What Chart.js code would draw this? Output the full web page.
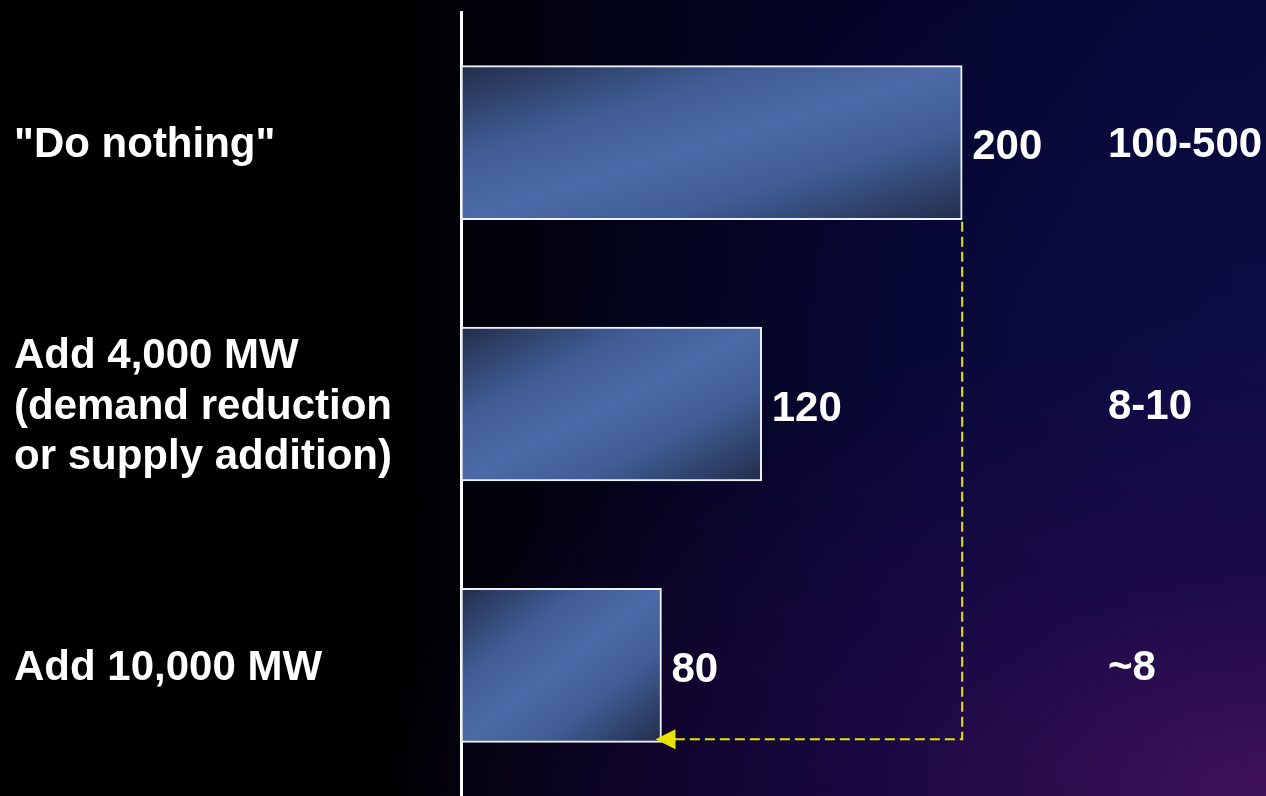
<!DOCTYPE html>
<html>
<head>
<meta charset="utf-8">
<script src="https://cdn.jsdelivr.net/npm/chart.js@4/dist/chart.umd.min.js"></script>
<style>
html, body { margin: 0; padding: 0; }
body {
  width: 1266px; height: 796px; overflow: hidden;
  background:
    radial-gradient(ellipse 70% 60% at 100% 100%, rgba(68,18,90,0.95) 0%, rgba(40,10,82,0.6) 45%, rgba(20,5,60,0) 100%),
    radial-gradient(ellipse 55% 70% at 100% 45%, rgba(14,14,72,0.85) 0%, rgba(0,0,40,0) 100%),
    linear-gradient(90deg, #000 0%, #000 30%, #020218 50%, #03032a 75%, #060638 100%);
}
#wrap { position: relative; width: 1266px; height: 796px; }
</style>
</head>
<body>
<div id="wrap"><canvas id="chart"></canvas></div>
<script>
var categories = [
  '"Do nothing"',
  ['Add 4,000 MW', '(demand reduction', 'or supply addition)'],
  'Add 10,000 MW'
];
var values = [200, 120, 80];
var rightLabels = ['100-500', '8-10', '~8'];

var FONT = { family: '"Liberation Sans", Arial, sans-serif', size: 42, weight: 'bold', lineHeight: 1.21 };

function barFill(c) {
  var ch = c.chart;
  if (!ch.chartArea || !ch.scales.x) return '#4a68a4';
  var xs = ch.scales.x, ys = ch.scales.y;
  var x0 = xs.getPixelForValue(0), x1 = xs.getPixelForValue(c.raw);
  var yc = ys.getPixelForValue(c.dataIndex);
  var w = x1 - x0, h = 154;
  var cx = (x0 + x1) / 2;
  // dark top-left and bottom-right corners, light band along the other diagonal
  var s = (w * h) / (h * h + w * w);
  var g = ch.ctx.createLinearGradient(cx - h * s, yc - w * s, cx + h * s, yc + w * s);
  g.addColorStop(0, '#222d4a');
  g.addColorStop(0.3, '#405d96');
  g.addColorStop(0.5, '#4b6aa7');
  g.addColorStop(0.7, '#405d96');
  g.addColorStop(1, '#222d4a');
  return g;
}

function noPad(s) { s.paddingTop = 0; s.paddingBottom = 0; }

var extras = {
  id: 'extras',
  afterDatasetsDraw: function(chart) {
    var ctx = chart.ctx;
    var xs = chart.scales.x;
    var bars = chart.getDatasetMeta(0).data;

    // value labels
    ctx.save();
    ctx.fillStyle = '#ffffff';
    ctx.font = 'bold 42px "Liberation Sans", Arial, sans-serif';
    ctx.textAlign = 'left';
    ctx.textBaseline = 'middle';
    bars.forEach(function(b, i) {
      ctx.fillText(String(values[i]), b.x + 10, b.y + 5);
    });
    ctx.restore();

    // dashed arrow from first bar down to the last one
    var xa = xs.getPixelForValue(values[0]);
    var ya = bars[0].y + bars[0].height / 2 + 2;
    var yb = bars[2].y + bars[2].height / 2 - 3;
    var xTip = xs.getPixelForValue(values[2]) - 6;
    ctx.save();
    ctx.strokeStyle = '#e8e400';
    ctx.lineWidth = 2;
    ctx.setLineDash([10, 5]);
    ctx.beginPath();
    ctx.moveTo(xa, ya);
    ctx.lineTo(xa, yb);
    ctx.lineTo(xTip + 18, yb);
    ctx.stroke();
    ctx.setLineDash([]);
    ctx.fillStyle = '#e8e400';
    ctx.beginPath();
    ctx.moveTo(xTip, yb);
    ctx.lineTo(xTip + 20, yb - 10);
    ctx.lineTo(xTip + 20, yb + 10);
    ctx.closePath();
    ctx.fill();
    ctx.restore();
  }
};

new Chart(document.getElementById('chart'), {
  type: 'bar',
  data: {
    labels: categories,
    datasets: [{
      data: values,
      backgroundColor: barFill,
      borderColor: '#eef1f8',
      borderWidth: 2,
      borderSkipped: false,
      barThickness: 154
    }]
  },
  options: {
    indexAxis: 'y',
    responsive: true,
    maintainAspectRatio: false,
    animation: false,
    layout: { padding: { left: 14, top: 12, right: 0, bottom: 0 } },
    plugins: { legend: { display: false }, tooltip: { enabled: false } },
    scales: {
      x: { display: false, min: 0, max: 255 },
      y: {
        position: 'left',
        afterFit: function(s) { s.width = 447; noPad(s); },
        grid: { display: false, drawTicks: false },
        border: { display: true, color: '#ffffff', width: 3 },
        ticks: { color: '#ffffff', font: FONT, crossAlign: 'far', padding: 0, labelOffset: 3, autoSkip: false }
      },
      y2: {
        type: 'category',
        axis: 'y',
        position: 'right',
        labels: rightLabels,
        offset: true,
        afterFit: function(s) { s.width = 166; noPad(s); },
        grid: { display: false, drawTicks: false },
        border: { display: false },
        ticks: { color: '#ffffff', font: FONT, padding: 8, labelOffset: 3, autoSkip: false }
      }
    }
  },
  plugins: [extras]
});
</script>
</body>
</html>
